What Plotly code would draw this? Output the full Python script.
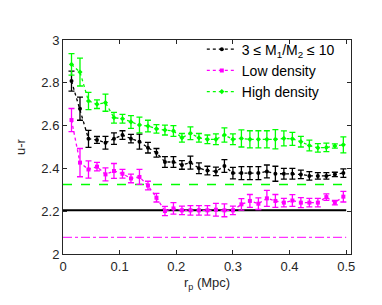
import plotly.graph_objects as go

rp = [0.015, 0.030, 0.045, 0.060, 0.075, 0.090, 0.105, 0.120, 0.135, 0.150,
      0.165, 0.180, 0.195, 0.210, 0.225, 0.240, 0.255, 0.270, 0.285, 0.300,
      0.315, 0.330, 0.345, 0.360, 0.375, 0.390, 0.405, 0.420, 0.435, 0.450,
      0.465, 0.480, 0.495]

mass_ratio_y = [2.808, 2.679, 2.538, 2.533, 2.520, 2.539, 2.556, 2.539, 2.525, 2.497,
                2.473, 2.430, 2.430, 2.416, 2.427, 2.401, 2.390, 2.386, 2.411, 2.378,
                2.378, 2.378, 2.378, 2.386, 2.375, 2.375, 2.375, 2.372, 2.365, 2.365,
                2.365, 2.372, 2.378]
mass_ratio_err = [0.047, 0.054, 0.040, 0.016, 0.030, 0.027, 0.020, 0.020, 0.035, 0.025,
                  0.020, 0.025, 0.025, 0.020, 0.030, 0.025, 0.020, 0.020, 0.030, 0.027,
                  0.030, 0.030, 0.030, 0.030, 0.035, 0.025, 0.025, 0.020, 0.020, 0.015,
                  0.015, 0.010, 0.020]

low_y = [2.626, 2.427, 2.395, 2.408, 2.372, 2.388, 2.375, 2.353, 2.360, 2.320,
         2.263, 2.201, 2.213, 2.204, 2.204, 2.204, 2.204, 2.207, 2.204, 2.204,
         2.232, 2.248, 2.235, 2.260, 2.248, 2.240, 2.250, 2.240, 2.240, 2.240,
         2.266, 2.240, 2.268]
low_err = [0.054, 0.066, 0.040, 0.020, 0.030, 0.035, 0.020, 0.020, 0.035, 0.020,
           0.020, 0.022, 0.027, 0.020, 0.022, 0.022, 0.022, 0.030, 0.030, 0.020,
           0.027, 0.030, 0.027, 0.037, 0.030, 0.020, 0.027, 0.023, 0.020, 0.020,
           0.015, 0.010, 0.025]

high_y = [2.886, 2.850, 2.715, 2.700, 2.707, 2.637, 2.632, 2.617, 2.603, 2.598,
          2.585, 2.579, 2.575, 2.543, 2.564, 2.543, 2.536, 2.536, 2.556, 2.536,
          2.540, 2.536, 2.536, 2.536, 2.536, 2.540, 2.538, 2.525, 2.507, 2.496,
          2.498, 2.505, 2.510]
high_err = [0.050, 0.065, 0.040, 0.020, 0.040, 0.025, 0.020, 0.030, 0.037, 0.027,
            0.020, 0.023, 0.025, 0.020, 0.030, 0.020, 0.020, 0.025, 0.033, 0.025,
            0.040, 0.040, 0.040, 0.040, 0.045, 0.035, 0.030, 0.025, 0.025, 0.020,
            0.020, 0.010, 0.037]

ref_x = [0.0, 0.5]
ref_black = 2.205
ref_green = 2.325
ref_magenta = 2.078

x_ticks = [0, 0.1, 0.2, 0.3, 0.4, 0.5]
y_ticks = [2, 2.2, 2.4, 2.6, 2.8, 3]

fig = go.Figure()

fig.add_trace(go.Scatter(x=ref_x, y=[ref_black] * 2, mode="lines",
                         line=dict(color="#000000", width=2), showlegend=False))
fig.add_trace(go.Scatter(x=ref_x, y=[ref_green] * 2, mode="lines",
                         line=dict(color="#00ff00", width=1.5, dash="dash"), showlegend=False))
fig.add_trace(go.Scatter(x=ref_x, y=[ref_magenta] * 2, mode="lines",
                         line=dict(color="#ff00ff", width=1, dash="dashdot"), showlegend=False))

series = [
    ("3 ≤ M<sub>1</sub>/M<sub>2</sub> ≤ 10", mass_ratio_y, mass_ratio_err, "#000000", "circle"),
    ("Low density", low_y, low_err, "#ff00ff", "square"),
    ("High density", high_y, high_err, "#00ff00", "diamond"),
]
for name, ys, errs, col, sym in series:
    fig.add_trace(go.Scatter(
        x=rp, y=ys, name=name, mode="lines+markers",
        line=dict(color=col, width=1.3, dash="dot"),
        marker=dict(color=col, size=4, symbol=sym),
        error_y=dict(type="data", array=errs, visible=True, color=col,
                     thickness=1.3, width=3),
    ))

axis_common = dict(showline=True, linecolor="#262626", linewidth=1, mirror="ticks",
                   ticks="inside", ticklen=4, tickcolor="#262626", showgrid=False,
                   zeroline=False, tickfont=dict(size=13, color="#262626"))

fig.update_layout(
    width=382, height=305,
    margin=dict(l=52, r=39, t=32, b=59),
    paper_bgcolor="white", plot_bgcolor="white",
    font=dict(family="Liberation Sans, Arial, sans-serif", size=13, color="#262626"),
    xaxis=dict(range=[0, 0.5085], tickvals=x_ticks, ticktext=[str(t) for t in x_ticks],
               title=dict(text="r<sub>p</sub> (Mpc)", standoff=5, font=dict(size=13)),
               **axis_common),
    yaxis=dict(range=[2, 3], tickvals=y_ticks, ticktext=[f"{t:g}" for t in y_ticks],
               title=dict(text="u-r", standoff=12, font=dict(size=13)),
               **axis_common),
    legend=dict(x=0.482, y=1.03, xanchor="left", yanchor="top",
                bgcolor="rgba(255,255,255,0)", borderwidth=0,
                font=dict(size=14, color="#000000"), tracegroupgap=0,
                itemwidth=30),
    showlegend=True,
)

fig.write_html("out.html")
